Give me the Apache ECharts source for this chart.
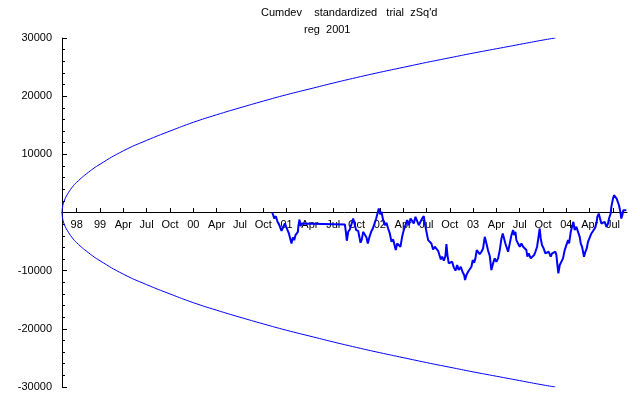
<!DOCTYPE html>
<html>
<head>
<meta charset="utf-8">
<script src="https://cdn.jsdelivr.net/npm/echarts@6/dist/echarts.min.js"></script>
<style>
  html, body { margin: 0; padding: 0; background: #fff; }
  #chart { width: 640px; height: 395px; }
</style>
</head>
<body>
<div id="chart"></div>
<script>
// x values are decimal years, y values are the cumulative deviation
var tickYears = [1998.75, 1999, 1999.25, 1999.5, 1999.75, 2000, 2000.25, 2000.5, 2000.75,
    2001, 2001.25, 2001.5, 2001.75, 2002, 2002.25, 2002.5, 2002.75,
    2003, 2003.25, 2003.5, 2003.75, 2004, 2004.25, 2004.5];
var tickNames = ['98', '99', 'Apr', 'Jul', 'Oct', '00', 'Apr', 'Jul', 'Oct',
    '01', 'Apr', 'Jul', 'Oct', '02', 'Apr', 'Jul', 'Oct',
    '03', 'Apr', 'Jul', 'Oct', '04', 'Apr', 'Jul'];

// envelope (lower one is the mirror)
var envYears = [1998.5925, 1998.60, 1998.62, 1998.65, 1998.70, 1998.75, 1998.875, 1999.0,
    1999.25, 1999.5, 1999.75, 2000.0, 2000.25, 2000.5, 2000.75, 2001.0, 2001.25,
    2001.5, 2001.75, 2002.0, 2002.25, 2002.5, 2002.75, 2003.0, 2003.25, 2003.5,
    2003.75, 2003.882];
var envValues = [0, 1100, 2150, 3100, 4300, 5200, 6900, 8300,
    10600, 12400, 14000, 15500, 16800, 18000, 19150, 20250, 21250,
    22250, 23200, 24100, 24950, 25800, 26600, 27400, 28150, 28900,
    29650, 30000];

// cumdev trace (gaps in the record show as flat segments)
var devYears = [2000.846, 2000.857, 2000.868, 2000.885, 2000.903, 2000.918, 2000.932, 2000.946,
    2000.964, 2000.982, 2000.996, 2001.011, 2001.025, 2001.039, 2001.053, 2001.068,
    2001.082, 2001.096, 2001.111, 2001.121, 2001.128, 2001.139, 2001.150, 2001.161,
    2001.171, 2001.625, 2001.636, 2001.646, 2001.661, 2001.678, 2001.696, 2001.714,
    2001.732, 2001.746, 2001.768, 2001.782, 2001.793, 2001.807, 2001.821, 2001.839,
    2001.857, 2001.871, 2001.889, 2001.907, 2001.925, 2001.943, 2001.961, 2001.975,
    2001.989, 2002.003, 2002.018, 2002.036, 2002.053, 2002.071, 2002.089, 2002.107,
    2002.125, 2002.143, 2002.157, 2002.171, 2002.186, 2002.203, 2002.221, 2002.239,
    2002.257, 2002.275, 2002.293, 2002.311, 2002.329, 2002.346, 2002.364, 2002.382,
    2002.400, 2002.418, 2002.436, 2002.453, 2002.471, 2002.486, 2002.500, 2002.518,
    2002.536, 2002.553, 2002.571, 2002.589, 2002.607, 2002.625, 2002.639, 2002.654,
    2002.668, 2002.686, 2002.703, 2002.714, 2002.725, 2002.739, 2002.757, 2002.775,
    2002.793, 2002.811, 2002.829, 2002.846, 2002.868, 2002.886, 2002.904, 2002.914,
    2002.929, 2002.946, 2002.964, 2002.982, 2002.996, 2003.011, 2003.025, 2003.039,
    2003.054, 2003.071, 2003.089, 2003.107, 2003.125, 2003.143, 2003.161, 2003.179,
    2003.196, 2003.214, 2003.232, 2003.250, 2003.268, 2003.286, 2003.304, 2003.318,
    2003.332, 2003.346, 2003.361, 2003.375, 2003.411, 2003.429, 2003.439, 2003.454,
    2003.464, 2003.482, 2003.500, 2003.518, 2003.536, 2003.554, 2003.571, 2003.582,
    2003.596, 2003.618, 2003.636, 2003.654, 2003.668, 2003.686, 2003.704, 2003.714,
    2003.725, 2003.739, 2003.757, 2003.775, 2003.793, 2003.811, 2003.832, 2003.847,
    2003.868, 2003.882, 2003.893, 2003.904, 2003.914, 2003.929, 2003.947, 2003.964,
    2003.982, 2004.000, 2004.018, 2004.029, 2004.047, 2004.065, 2004.075, 2004.089,
    2004.107, 2004.125, 2004.143, 2004.154, 2004.168, 2004.179, 2004.189, 2004.204,
    2004.218, 2004.232, 2004.250, 2004.268, 2004.286, 2004.304, 2004.322, 2004.332,
    2004.347, 2004.361, 2004.375, 2004.393, 2004.411, 2004.429, 2004.447, 2004.457,
    2004.475, 2004.482, 2004.500, 2004.511, 2004.525, 2004.539, 2004.554, 2004.564,
    2004.579, 2004.589, 2004.600, 2004.611, 2004.625, 2004.643];
var devValues = [0, -460, -1030, -630, -1600, -2000, -1780, -3150,
    -3320, -1890, -2460, -2750, -3600, -3890, -5320, -4290,
    -4750, -3890, -4180, -3320, -2180, -1210, -2350, -1890,
    -2060, -2060, -3320, -4860, -3320, -2920, -2000, -1030,
    -1320, -3030, -3150, -4290, -5200, -4630, -3320, -3030,
    -4290, -5320, -4180, -3320, -2750, -1890, -1030, -180,
    680, -290, 110, -1320, -2180, -1780, -2750, -3600,
    -5030, -4630, -4750, -6460, -5320, -5030, -5890, -4180,
    -3030, -2180, -1320, -2180, -1030, -1430, -1890, -750,
    -460, -2180, -1600, -1030, -630, -2180, -3320, -4750,
    -5030, -5320, -6350, -5890, -5600, -6580, -7320, -8060,
    -7600, -8290, -7490, -5430, -7320, -8750, -9090, -8460,
    -9430, -10000, -9030, -9890, -9320, -10180, -10750, -11600,
    -10750, -10180, -9890, -9320, -8180, -8630, -7890, -6460,
    -6580, -7150, -6750, -6180, -4180, -5320, -6580, -7490,
    -9890, -8750, -7890, -8460, -7890, -6460, -4460, -3600,
    -4460, -5320, -5030, -6750, -3890, -3030, -3890, -3320,
    -4750, -5320, -5890, -5320, -5890, -5600, -6460, -7600,
    -7030, -7890, -8180, -7320, -6750, -5890, -3890, -2750,
    -4460, -5600, -6180, -7030, -7320, -6750, -7600, -7030,
    -6750, -6750, -7320, -9030, -10460, -9030, -8750, -7890,
    -6460, -5600, -4750, -5320, -3320, -2180, -1600, -3030,
    -2460, -3320, -4180, -5320, -5890, -6750, -7600, -6750,
    -6180, -5030, -4750, -3600, -3320, -2750, -1890, -750,
    -180, -1030, -1890, -2180, -1600, -2460, -1890, -1030,
    -180, 970, 2390, 2970, 3250, 2390, 2680, 1250,
    110, -1030, -460, 390, 110, 390];

var upper = [], lower = [], trace = [];
for (var i = 0; i < envYears.length; i++) {
    upper.push([envYears[i], envValues[i]]);
    lower.push([envYears[i], -envValues[i]]);
}
for (var j = 0; j < devYears.length; j++) {
    trace.push([devYears[j], devValues[j]]);
}

var chart = echarts.init(document.getElementById('chart'));
var font = 'Arial, "Liberation Sans", sans-serif';

var option = {
    animation: false,
    backgroundColor: '#fff',
    title: [
        {
            text: "Cumdev    standardized   trial  zSq'd",
            left: 256, top: 2,
            textStyle: { fontSize: 11, fontWeight: 'normal', color: '#000', fontFamily: font }
        },
        {
            text: 'reg  2001',
            left: 299, top: 19,
            textStyle: { fontSize: 11, fontWeight: 'normal', color: '#000', fontFamily: font }
        }
    ],
    grid: { left: 62, right: 13, top: 38, bottom: 8 },
    xAxis: {
        type: 'value',
        min: 1998.5925,
        max: 2004.65,
        position: 'bottom',
        offset: -175,   // lift the axis from the grid bottom up to y = 0
        axisLine: { onZero: false, lineStyle: { color: '#000', width: 1 } },
        axisTick: { inside: true, length: 4, customValues: tickYears, lineStyle: { color: '#000' } },
        axisLabel: {
            customValues: tickYears,
            margin: 7,
            fontSize: 11, color: '#000', fontFamily: font,
            formatter: function (v) {
                for (var k = 0; k < tickYears.length; k++) {
                    if (Math.abs(tickYears[k] - v) < 1e-6) return tickNames[k];
                }
                return '';
            }
        },
        splitLine: { show: false }
    },
    yAxis: {
        type: 'value',
        min: -30000, max: 30000, interval: 10000,
        axisLine: { show: true, onZero: false, lineStyle: { color: '#000', width: 1 } },
        axisTick: { show: true, inside: true, length: 5, lineStyle: { color: '#000' } },
        minorTick: { show: true, splitNumber: 5, length: 3, lineStyle: { color: '#000' } },
        axisLabel: {
            margin: 10,
            fontSize: 11, color: '#000', fontFamily: font,
            formatter: function (v) { return v === 0 ? '' : String(v); }
        },
        splitLine: { show: false }
    },
    series: [
        {
            type: 'line', data: upper, smooth: true, showSymbol: false,
            lineStyle: { color: '#0000ff', width: 1 }
        },
        {
            type: 'line', data: lower, smooth: true, showSymbol: false,
            lineStyle: { color: '#0000ff', width: 1 }
        },
        {
            type: 'line', data: trace, showSymbol: false,
            lineStyle: { color: '#0000ff', width: 2 }
        }
    ]
};

chart.setOption(option);
</script>
</body>
</html>
